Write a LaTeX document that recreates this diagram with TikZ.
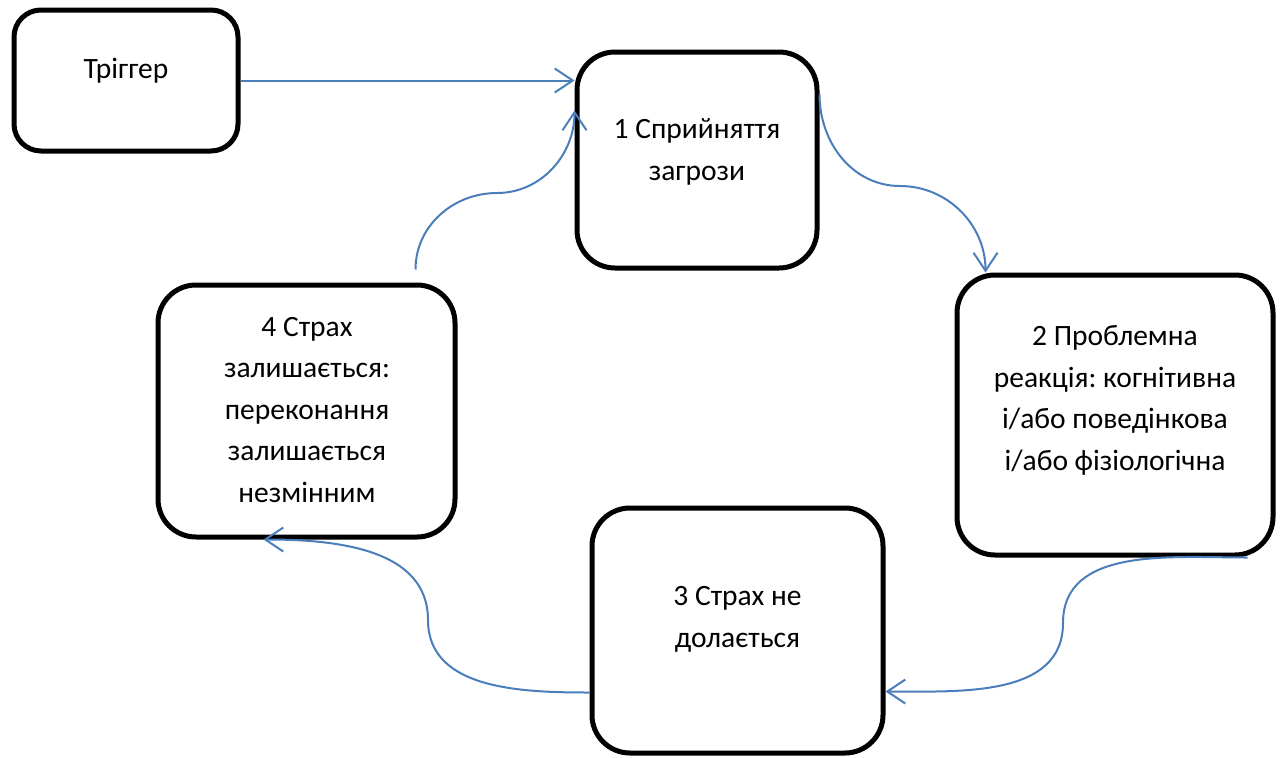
\documentclass[tikz,border=0pt]{standalone}
\usepackage{fontspec}
\setmainfont{Carlito}
\usetikzlibrary{arrows.meta,calc}
\definecolor{conncol}{HTML}{4A7EBB}
\frenchspacing
\begin{document}
\begin{tikzpicture}[x=1pt,y=-1pt,
  box/.style={draw=black, line width=5pt, rounded corners=38pt, inner sep=0pt, fill=white},
  lbl/.style={align=center, font=\fontsize{29.5pt}{41.5pt}\selectfont, inner sep=0pt, anchor=base},
  conn/.style={draw=conncol, line width=2pt, -{Straight Barb[length=18pt,width=24pt]}}]
\useasboundingbox (0,0) rectangle (1283,758);
% boxes
\node[box, rounded corners=27pt, minimum width=224pt, minimum height=141pt] (trig) at (126,80.5) {};
\node[box, minimum width=240pt, minimum height=216pt] (b1) at (697,160) {};
\node[box, minimum width=316pt, minimum height=280pt] (b2) at (1115,415) {};
\node[box, minimum width=291pt, minimum height=245pt] (b3) at (737.5,630.5) {};
\node[box, minimum width=297pt, minimum height=252pt] (b4) at (306.5,411) {};
% texts (anchor base = last line baseline)
\node[lbl] (ttrig) at (126,78) {Тріггер};
\node[lbl] (tb1) at (697,180) {1 Сприйняття\\загрози};
\node[lbl] (tb2) at (1115,470) {2 Проблемна\\реакція: когнітивна\\і/або поведінкова\\і/або фізіологічна};
\node[lbl] (tb3) at (737.5,647) {3 Страх не\\долається};
\node[lbl] (tb4) at (307,502) {4 Страх\\залишається:\\переконання\\залишається\\незмінним};
% connector points
\coordinate (m12) at (900,186);
\coordinate (m23) at (1063,623);
\coordinate (m34) at (428,620);
\coordinate (m41) at (497,193);
\coordinate (s41) at ([xshift=260pt,yshift=13pt]b4.north west);
% connectors
\draw[conn] (trig.east) -- (trig.east -| b1.west);
\draw[conn] ([yshift=-45pt]b1.north east) to[out=-90,in=180] (m12) to[out=0,in=90] ([xshift=31pt]b2.north west);
\draw[conn] ([xshift=-28pt]b2.south east) to[out=180,in=90] (m23) to[out=-90,in=0] ([yshift=64pt]b3.south east);
\draw[conn] ([yshift=63pt]b3.south west) to[out=180,in=-90] (m34) to[out=90,in=0] ([xshift=108pt]b4.south west);
\draw[conn] (s41) to[out=90,in=180] (m41) to[out=0,in=-90] ([yshift=-61pt]b1.north west);
\end{tikzpicture}
\end{document}
